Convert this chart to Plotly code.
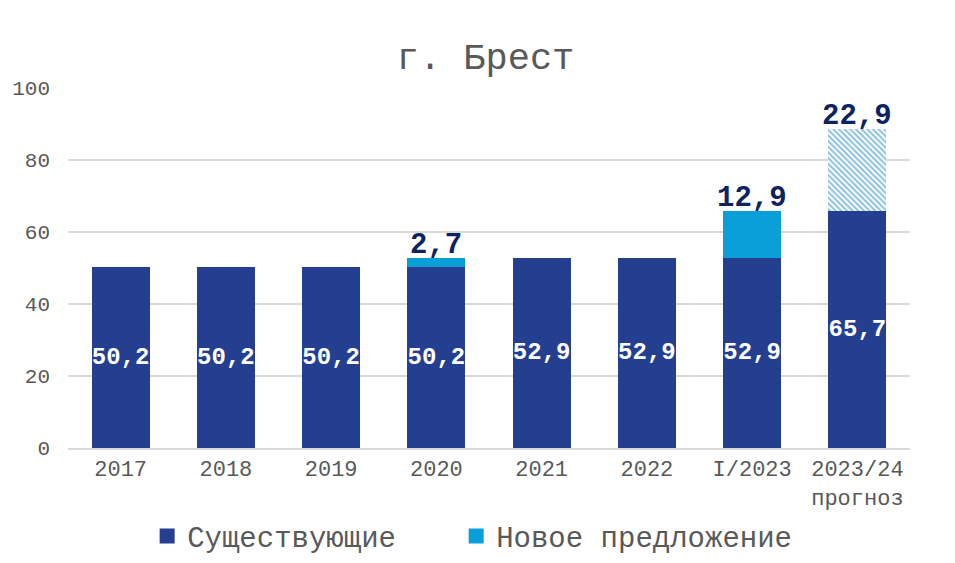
import plotly.graph_objects as go

categories = ["2017", "2018", "2019", "2020", "2021", "2022", "I/2023", "2023/24<br>прогноз"]
existing = [50.2, 50.2, 50.2, 50.2, 52.9, 52.9, 52.9, 65.7]
new_supply = [0, 0, 0, 2.7, 0, 0, 12.9, 0]
forecast_new = [0, 0, 0, 0, 0, 0, 0, 22.9]
y_ticks = [0, 20, 40, 60, 80, 100]

FONT = "Liberation Mono, Courier New, monospace"
NAVY = "#243F8F"
CYAN = "#0A9FD8"
LABEL = "#0D2360"

def fmt(v):
    return f"{v:.1f}".replace(".", ",")

fig = go.Figure()
fig.add_trace(go.Bar(
    x=categories, y=existing, name="Существующие", showlegend=False,
    marker=dict(color=NAVY, line=dict(width=0)),
    text=[f"<b>{fmt(v)}</b>" for v in existing], textposition="inside",
    insidetextanchor="middle", constraintext="none",
    textfont=dict(family=FONT, size=24, color="white"),
    textangle=0, cliponaxis=False,
))
fig.add_trace(go.Bar(
    x=categories, y=new_supply, name="Новое предложение", showlegend=False,
    marker=dict(color=CYAN, line=dict(width=0)),
))
fig.add_trace(go.Bar(
    x=categories, y=forecast_new, name="Прогноз", showlegend=False,
    marker=dict(color="white", line=dict(width=0),
                pattern=dict(shape="\\", fgcolor="#1582BA", bgcolor="white",
                             size=4, solidity=0.5)),
))

# legend entries with larger square symbols, each in its own legend box
for nm, col, lg in [("Существующие", NAVY, "legend"), ("Новое предложение", CYAN, "legend2")]:
    fig.add_trace(go.Scatter(
        x=[None], y=[None], mode="markers", name=nm, legend=lg,
        marker=dict(symbol="square", size=15, color=col),
    ))

for i, cat in enumerate(categories):
    add = new_supply[i] + forecast_new[i]
    if add > 0:
        fig.add_annotation(
            x=i, y=existing[i] + add, text=f"<b>{fmt(add)}</b>",
            showarrow=False, yanchor="bottom", yshift=-6,
            font=dict(family=FONT, size=29, color=LABEL),
        )

legend_style = dict(orientation="h", yanchor="middle", y=-0.245, xanchor="left",
                    font=dict(family=FONT, size=29, color="#595959"),
                    itemwidth=30, bgcolor="rgba(0,0,0,0)")

fig.update_layout(
    width=955, height=563,
    barmode="stack", bargap=0.45,
    paper_bgcolor="white", plot_bgcolor="white",
    margin=dict(l=60, r=53, t=80, b=123, autoexpand=False),
    title=dict(text="г. Брест", x=0.5, xanchor="center", y=0.915, yanchor="middle",
               font=dict(family=FONT, size=37, color="#595959")),
    font=dict(family=FONT, color="#595959"),
    showlegend=True,
    legend=dict(x=0.094, **legend_style),
    legend2=dict(x=0.461, **legend_style),
    uniformtext=dict(mode=False),
)
fig.update_xaxes(type="category", range=[-0.5, len(categories) - 0.5], automargin=False,
                 showgrid=False, showline=True, linecolor="#D9D9D9", linewidth=2,
                 tickfont=dict(family=FONT, size=22, color="#595959"), ticks="")
fig.update_yaxes(range=[0, 100], tickvals=y_ticks, showgrid=True, gridcolor="#D9D9D9",
                 gridwidth=2, zeroline=False, showline=False, automargin=False,
                 tickfont=dict(family=FONT, size=21, color="#595959"),
                 ticklabelstandoff=17)

fig.write_html("out.html")
